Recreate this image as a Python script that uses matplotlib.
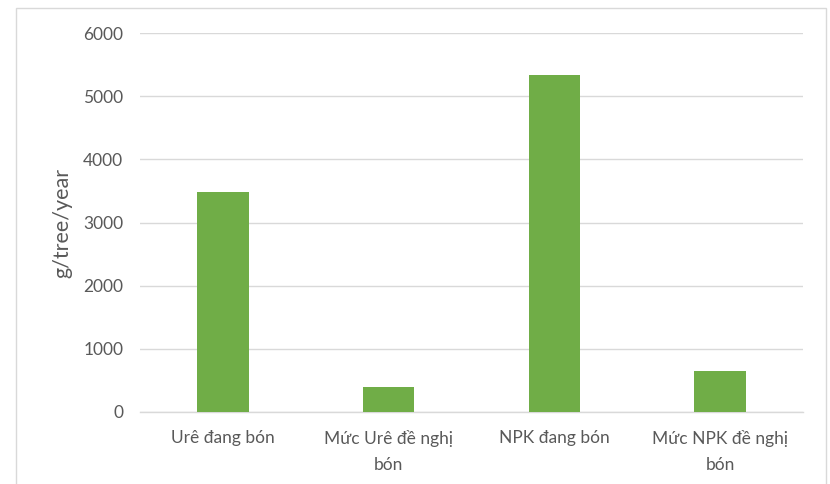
import matplotlib
matplotlib.use('Agg')
import matplotlib.pyplot as plt
from matplotlib.patches import Rectangle

plt.rcParams['font.family'] = ['Lato', 'DejaVu Sans']

# 施肥量 g/tree/year
categories = ['Urê đang bón', 'Mức Urê đề nghị\nbón', 'NPK đang bón', 'Mức NPK đề nghị\nbón']
values = [3480, 400, 5330, 650]
yticks = [0, 1000, 2000, 3000, 4000, 5000, 6000]

fig = plt.figure(figsize=(8.3, 4.84), dpi=100)
ax = fig.add_axes([140 / 830, 1 - 412 / 484, 663 / 830, 379 / 484])

x = range(len(categories))
ax.bar(x, values, width=0.31, color='#70ad47', zorder=3)

ax.set_xlim(-0.5, len(categories) - 0.5)
ax.set_ylim(0, 6000)
ax.set_yticks(yticks)
ax.set_xticks(list(x))
ax.set_xticklabels(categories, fontsize=12.5, color='#595959', linespacing=1.75)
for t in ax.get_yticklabels():
    t.set_fontsize(12.5)
    t.set_color('#595959')

ax.grid(axis='y', color='#d9d9d9', linewidth=1, zorder=0)
ax.tick_params(length=0)
ax.tick_params(axis='y', pad=12)
ax.tick_params(axis='x', pad=13)
for s in ['top', 'right', 'left']:
    ax.spines[s].set_visible(False)
ax.spines['bottom'].set_color('#d9d9d9')
ax.spines['bottom'].set_linewidth(1)

ax.set_ylabel('g/tree/year', fontsize=15.5, color='#595959', labelpad=8)

# 外框
fig.patches.append(Rectangle((16 / 830, -0.01), 810 / 830, 1 - 8 / 484 + 0.01,
                             transform=fig.transFigure, fill=False,
                             edgecolor='#d9d9d9', linewidth=1))

fig.savefig('out.png', dpi=100)
